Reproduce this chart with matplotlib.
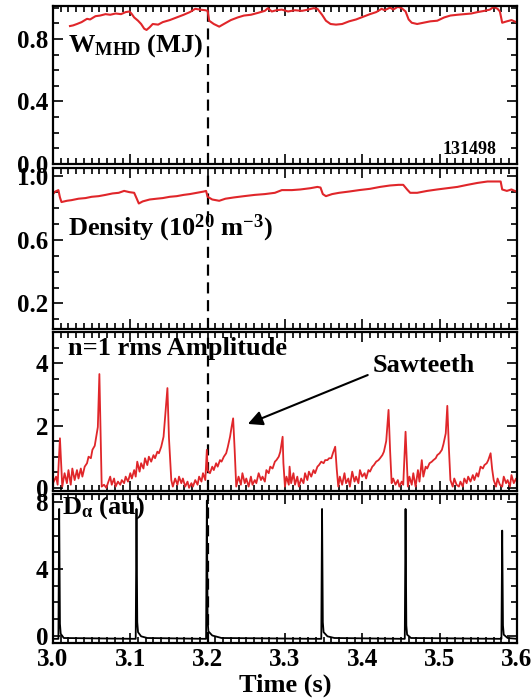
import matplotlib
matplotlib.use('Agg')
import matplotlib.pyplot as plt
from matplotlib.ticker import MultipleLocator, FixedLocator

# Stored energy W_MHD (MJ)
wmhd_pts = [
    (3.022, 0.882), (3.026, 0.886), (3.031, 0.895), (3.037, 0.907), (3.044, 0.928),
    (3.048, 0.924), (3.055, 0.945), (3.061, 0.949), (3.068, 0.958), (3.074, 0.954),
    (3.081, 0.962), (3.088, 0.958), (3.094, 0.971), (3.099, 0.975), (3.102, 0.958),
    (3.105, 0.937), (3.110, 0.916), (3.114, 0.895), (3.118, 0.865), (3.121, 0.857),
    (3.125, 0.874), (3.129, 0.895), (3.136, 0.891), (3.142, 0.907), (3.151, 0.920),
    (3.160, 0.937), (3.169, 0.954), (3.177, 0.971), (3.184, 0.992), (3.190, 0.987),
    (3.197, 0.983), (3.200, 0.979), (3.202, 0.916), (3.208, 0.895), (3.215, 0.878),
    (3.221, 0.895), (3.230, 0.920), (3.239, 0.937), (3.247, 0.949), (3.256, 0.954),
    (3.265, 0.966), (3.274, 0.979), (3.278, 0.996), (3.283, 0.975), (3.289, 0.983),
    (3.296, 0.987), (3.304, 0.975), (3.313, 0.983), (3.322, 0.979), (3.330, 0.987),
    (3.337, 0.996), (3.342, 0.992), (3.348, 0.954), (3.353, 0.916), (3.359, 0.895),
    (3.366, 0.891), (3.374, 0.895), (3.383, 0.912), (3.392, 0.924), (3.401, 0.941),
    (3.410, 0.958), (3.418, 0.971), (3.425, 0.992), (3.429, 0.983), (3.436, 1.000),
    (3.440, 0.987), (3.446, 1.005), (3.451, 0.996), (3.456, 0.975), (3.460, 0.924),
    (3.464, 0.903), (3.471, 0.895), (3.479, 0.903), (3.488, 0.912), (3.497, 0.916),
    (3.506, 0.937), (3.514, 0.949), (3.523, 0.954), (3.532, 0.958), (3.541, 0.962),
    (3.549, 0.971), (3.558, 0.979), (3.565, 0.987), (3.570, 1.004), (3.575, 0.992),
    (3.578, 0.975), (3.581, 0.903), (3.587, 0.912), (3.593, 0.920), (3.599, 0.907),
]

# Line-averaged density (10^20 m^-3)
dens_pts = [
    (3.000, 0.886), (3.003, 0.902), (3.007, 0.911), (3.009, 0.865), (3.011, 0.836),
    (3.018, 0.844), (3.024, 0.848), (3.033, 0.857), (3.042, 0.861), (3.050, 0.869),
    (3.059, 0.873), (3.068, 0.881), (3.077, 0.890), (3.085, 0.894), (3.092, 0.906),
    (3.099, 0.898), (3.105, 0.894), (3.108, 0.861), (3.111, 0.827), (3.116, 0.840),
    (3.125, 0.852), (3.134, 0.857), (3.142, 0.861), (3.151, 0.869), (3.160, 0.873),
    (3.169, 0.881), (3.177, 0.886), (3.186, 0.894), (3.195, 0.902), (3.198, 0.906),
    (3.200, 0.869), (3.206, 0.852), (3.215, 0.844), (3.223, 0.857), (3.234, 0.865),
    (3.247, 0.873), (3.261, 0.881), (3.274, 0.886), (3.287, 0.894), (3.296, 0.911),
    (3.309, 0.911), (3.320, 0.915), (3.333, 0.923), (3.342, 0.931), (3.346, 0.927),
    (3.349, 0.886), (3.353, 0.873), (3.361, 0.886), (3.370, 0.894), (3.383, 0.902),
    (3.396, 0.911), (3.410, 0.919), (3.423, 0.931), (3.436, 0.940), (3.447, 0.944),
    (3.453, 0.944), (3.458, 0.915), (3.462, 0.894), (3.471, 0.894), (3.484, 0.906),
    (3.497, 0.915), (3.510, 0.923), (3.523, 0.931), (3.536, 0.944), (3.549, 0.956),
    (3.562, 0.965), (3.573, 0.965), (3.579, 0.965), (3.581, 0.915), (3.587, 0.906),
    (3.593, 0.915), (3.599, 0.902),
]

# n=1 rms amplitude
n1_pts = [
    (3.000, 0.15), (3.004, 0.36), (3.006, 0.10), (3.009, 1.59), (3.012, 0.04),
    (3.015, 0.47), (3.018, 0.15), (3.020, 0.57), (3.023, 0.10), (3.025, 0.62),
    (3.028, 0.25), (3.031, 0.57), (3.033, 0.30), (3.036, 0.62), (3.038, 0.36),
    (3.041, 0.68), (3.044, 0.79), (3.046, 1.00), (3.049, 0.95), (3.051, 1.22),
    (3.054, 1.35), (3.056, 1.64), (3.058, 1.95), (3.060, 3.65), (3.062, 1.20),
    (3.063, 0.04), (3.066, 0.10), (3.069, 0.00), (3.071, 0.15), (3.074, 0.36),
    (3.076, 0.10), (3.079, 0.30), (3.081, 0.04), (3.084, 0.20), (3.087, 0.10),
    (3.089, 0.25), (3.092, 0.15), (3.094, 0.36), (3.097, 0.20), (3.100, 0.47),
    (3.102, 0.30), (3.105, 0.57), (3.107, 0.36), (3.109, 0.84), (3.112, 0.52),
    (3.114, 0.79), (3.117, 0.62), (3.119, 0.95), (3.122, 0.73), (3.124, 1.00),
    (3.127, 0.84), (3.130, 1.05), (3.132, 0.95), (3.135, 1.16), (3.137, 1.11),
    (3.140, 1.32), (3.143, 1.64), (3.145, 2.28), (3.148, 3.20), (3.150, 1.60),
    (3.153, 0.25), (3.155, 0.04), (3.158, 0.30), (3.161, 0.10), (3.163, 0.36),
    (3.166, 0.15), (3.168, 0.30), (3.171, 0.04), (3.174, 0.20), (3.176, 0.00),
    (3.179, 0.15), (3.181, 0.04), (3.184, 0.25), (3.187, 0.10), (3.189, 0.36),
    (3.192, 0.20), (3.194, 0.47), (3.197, 0.25), (3.199, 1.22), (3.200, 0.57),
    (3.203, 0.47), (3.206, 0.68), (3.208, 0.57), (3.211, 0.79), (3.213, 0.68),
    (3.216, 0.89), (3.218, 0.84), (3.221, 1.00), (3.224, 1.11), (3.226, 1.30),
    (3.229, 1.64), (3.231, 1.95), (3.233, 2.23), (3.235, 1.20), (3.237, 0.04),
    (3.240, 0.36), (3.243, 0.10), (3.245, 0.47), (3.248, 0.15), (3.250, 0.30),
    (3.253, 0.04), (3.256, 0.36), (3.258, 0.10), (3.261, 0.25), (3.263, 0.15),
    (3.266, 0.47), (3.269, 0.25), (3.271, 0.36), (3.274, 0.20), (3.276, 0.57),
    (3.279, 0.47), (3.281, 0.68), (3.284, 0.62), (3.287, 0.84), (3.289, 0.89),
    (3.292, 1.00), (3.294, 1.16), (3.297, 1.64), (3.298, 0.80), (3.300, 0.04),
    (3.302, 0.36), (3.305, 0.10), (3.306, 0.68), (3.308, 0.15), (3.311, 0.47),
    (3.313, 0.10), (3.316, 0.36), (3.318, 0.04), (3.321, 0.30), (3.324, 0.15),
    (3.326, 0.47), (3.329, 0.25), (3.331, 0.52), (3.334, 0.36), (3.337, 0.57),
    (3.339, 0.47), (3.342, 0.68), (3.344, 0.73), (3.347, 0.84), (3.350, 0.79),
    (3.352, 0.89), (3.355, 0.89), (3.357, 0.95), (3.360, 0.95), (3.362, 1.11),
    (3.365, 1.32), (3.367, 0.60), (3.369, 0.04), (3.371, 0.36), (3.374, 0.10),
    (3.377, 0.47), (3.379, 0.15), (3.382, 0.30), (3.384, 0.04), (3.387, 0.52),
    (3.390, 0.20), (3.392, 0.36), (3.395, 0.15), (3.397, 0.57), (3.400, 0.36),
    (3.403, 0.47), (3.405, 0.30), (3.408, 0.57), (3.410, 0.52), (3.413, 0.68),
    (3.415, 0.73), (3.418, 0.84), (3.421, 0.89), (3.423, 0.95), (3.426, 1.05),
    (3.428, 1.16), (3.431, 1.50), (3.434, 2.50), (3.436, 1.20), (3.438, 0.15),
    (3.440, 0.30), (3.443, 0.10), (3.446, 0.25), (3.448, 0.04), (3.451, 0.20),
    (3.453, 0.10), (3.456, 1.80), (3.459, 0.04), (3.461, 0.36), (3.464, 0.10),
    (3.466, 0.47), (3.469, 0.04), (3.472, 0.57), (3.474, 0.20), (3.477, 0.89),
    (3.479, 0.36), (3.482, 0.68), (3.484, 0.62), (3.487, 0.79), (3.490, 0.84),
    (3.492, 0.89), (3.495, 0.95), (3.497, 1.05), (3.500, 1.11), (3.503, 1.22),
    (3.505, 1.40), (3.508, 1.75), (3.510, 2.63), (3.512, 1.30), (3.514, 0.25),
    (3.517, 0.04), (3.519, 0.30), (3.522, 0.10), (3.525, 0.04), (3.527, 0.20),
    (3.530, 0.04), (3.532, 0.30), (3.535, 0.15), (3.537, 0.36), (3.540, 0.20),
    (3.543, 0.41), (3.545, 0.25), (3.548, 0.47), (3.550, 0.36), (3.553, 0.68),
    (3.556, 0.62), (3.558, 0.73), (3.561, 0.79), (3.563, 0.89), (3.566, 1.11),
    (3.568, 0.60), (3.570, 0.25), (3.573, 0.04), (3.575, 0.30), (3.578, 0.10),
    (3.581, 0.04), (3.583, 0.36), (3.586, 0.15), (3.588, 0.25), (3.591, 0.04),
    (3.593, 0.41), (3.596, 0.15), (3.599, 0.30), (3.600, 0.20),
]

# D-alpha (au)
dalpha_pts = [
    (3.000, -0.2), (3.007, -0.2), (3.008, 7.6), (3.009, 0.7), (3.010, 0.1),
    (3.014, -0.15), (3.107, -0.2), (3.108, 7.6), (3.109, 0.8), (3.110, 0.2),
    (3.114, -0.05), (3.122, -0.15), (3.198, -0.2), (3.199, 8.1), (3.200, 0.9),
    (3.201, 0.25), (3.206, 0.0), (3.218, -0.15), (3.347, -0.2), (3.348, 7.6),
    (3.349, 0.8), (3.350, 0.2), (3.355, -0.05), (3.364, -0.15), (3.455, -0.2),
    (3.456, 7.6), (3.457, 0.6), (3.458, 0.05), (3.463, -0.15), (3.580, -0.2),
    (3.581, 6.3), (3.582, 0.6), (3.583, 0.05), (3.588, -0.15), (3.600, -0.2),
]

crash_time = 3.2
shot_number = '131498'

plt.rcParams['font.family'] = 'Liberation Serif'
plt.rcParams['font.weight'] = 'bold'
plt.rcParams['mathtext.fontset'] = 'custom'
plt.rcParams['mathtext.rm'] = 'Liberation Serif:bold'
plt.rcParams['mathtext.bf'] = 'Liberation Serif:bold'
plt.rcParams['mathtext.it'] = 'Liberation Serif:bold'

RED = '#e0262a'
TICK_FS = 18
LABEL_FS = 19

fig = plt.figure(figsize=(5.32, 6.98), dpi=100)
left, width = 0.0996, 0.872
axes = [
    fig.add_axes([left, 0.765, width, 0.2264]),
    fig.add_axes([left, 0.5287, width, 0.2307]),
    fig.add_axes([left, 0.2966, width, 0.2278]),
    fig.add_axes([left, 0.0788, width, 0.2135]),
]

for ax in axes:
    ax.set_xlim(3.0, 3.6)
    ax.xaxis.set_major_locator(MultipleLocator(0.1))
    ax.xaxis.set_minor_locator(MultipleLocator(0.01))
    ax.tick_params(which='both', direction='in', top=True, right=True,
                   labelsize=TICK_FS, width=1.2)
    ax.tick_params(which='major', length=7)
    ax.tick_params(which='minor', length=4)
    for sp in ax.spines.values():
        sp.set_linewidth(1.6)
    ax.axvline(crash_time, color='black', lw=1.6, ls=(0, (5, 3)), zorder=1)

for ax in axes[:-1]:
    ax.tick_params(labelbottom=False)

# Panel 1
ax = axes[0]
t, v = zip(*wmhd_pts)
ax.plot(t, v, color=RED, lw=1.5, zorder=2)
ax.set_ylim(0, 1.01)
ax.yaxis.set_major_locator(FixedLocator([0.0, 0.4, 0.8]))
ax.yaxis.set_minor_locator(MultipleLocator(0.1))
ax.set_yticklabels(['0.0', '0.4', '0.8'])
ax.text(0.032, 0.75, r'W$_{\mathbf{MHD}}$ (MJ)', transform=ax.transAxes,
        fontsize=LABEL_FS, fontweight='bold', va='center', ha='left')
ax.text(0.957, 0.089, shot_number, transform=ax.transAxes,
        fontsize=13, fontweight='bold', va='center', ha='right')

# Panel 2
ax = axes[1]
t, v = zip(*dens_pts)
ax.plot(t, v, color=RED, lw=1.5, zorder=2)
ax.set_ylim(0.04, 1.05)
ax.yaxis.set_major_locator(FixedLocator([0.2, 0.6, 1.0]))
ax.yaxis.set_minor_locator(MultipleLocator(0.1))
ax.set_yticklabels(['0.2', '0.6', '1.0'])
ax.text(0.032, 0.627, r'Density (10$^{20}$ m$^{-3}$)', transform=ax.transAxes,
        fontsize=LABEL_FS, fontweight='bold', va='center', ha='left')

# Panel 3
ax = axes[2]
t, v = zip(*n1_pts)
ax.plot(t, v, color=RED, lw=1.3, zorder=2)
ax.set_ylim(-0.1, 5.0)
ax.yaxis.set_major_locator(FixedLocator([0, 2, 4]))
ax.yaxis.set_minor_locator(MultipleLocator(0.5))
ax.set_yticklabels(['0', '2', '4'])
ax.text(0.032, 0.893, 'n=1 rms Amplitude', transform=ax.transAxes,
        fontsize=LABEL_FS, fontweight='bold', va='center', ha='left')
ax.annotate('Sawteeth', xy=(3.252, 2.05), xytext=(3.414, 3.91),
            fontsize=LABEL_FS, fontweight='bold', va='center', ha='left',
            arrowprops=dict(arrowstyle='-|>', color='black', lw=1.5,
                            mutation_scale=22, shrinkA=2, shrinkB=0,
                            relpos=(0.0, 0.2)))

# Panel 4
ax = axes[3]
t, v = zip(*dalpha_pts)
ax.plot(t, v, color='black', lw=1.3, zorder=2)
ax.set_ylim(-0.45, 8.5)
ax.yaxis.set_major_locator(FixedLocator([0, 4, 8]))
ax.yaxis.set_minor_locator(MultipleLocator(1))
ax.set_yticklabels(['0', '4', '8'])
ax.text(0.02, 0.906, r'D$_{\alpha}$ (au)', transform=ax.transAxes,
        fontsize=LABEL_FS, fontweight='bold', va='center', ha='left')
ax.set_xlabel('Time (s)', fontsize=LABEL_FS, fontweight='bold', labelpad=2)
ax.set_xticks([3.0, 3.1, 3.2, 3.3, 3.4, 3.5, 3.6])
ax.set_xticklabels(['3.0', '3.1', '3.2', '3.3', '3.4', '3.5', '3.6'])

fig.savefig('out.png', dpi=100)
